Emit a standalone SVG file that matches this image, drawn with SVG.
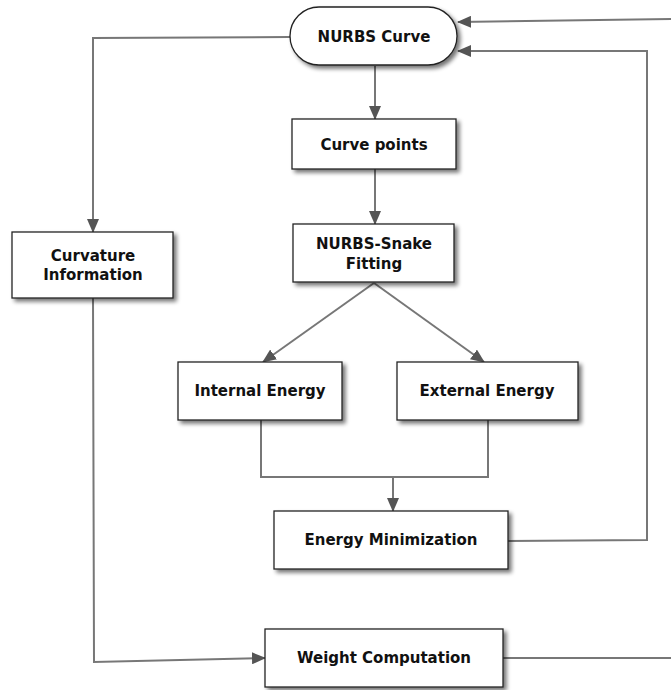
<svg xmlns="http://www.w3.org/2000/svg" width="671" height="690" viewBox="0 0 671 690">
<defs>
<filter id="sh" x="-10%" y="-10%" width="130%" height="140%">
<feGaussianBlur in="SourceAlpha" stdDeviation="2"/>
<feOffset dx="3" dy="3" result="b"/>
<feComponentTransfer><feFuncA type="linear" slope="0.55"/></feComponentTransfer>
<feMerge><feMergeNode/><feMergeNode in="SourceGraphic"/></feMerge>
</filter>
<marker id="ah" viewBox="0 0 14 12" refX="13" refY="6" markerWidth="14" markerHeight="12" markerUnits="userSpaceOnUse" orient="auto">
<path d="M0,0 L14,6 L0,12 Z" fill="#555"/>
</marker>
</defs>
<style>
.box{fill:#fff;stroke:#222;stroke-width:1.3;filter:url(#sh)}
.t{font-family:"DejaVu Sans",Verdana,sans-serif;font-weight:bold;font-size:15px;fill:#111;text-anchor:middle;dominant-baseline:central}
.c{fill:none;stroke:#777;stroke-width:2}
.a{marker-end:url(#ah)}
</style>
<rect width="671" height="690" fill="#fff"/>
<g id="connectors">
<polyline class="c a" points="290,37 93,38 93,232"/>
<line class="c a" x1="375" y1="66" x2="375" y2="119"/>
<line class="c a" x1="375" y1="169" x2="375" y2="224"/>
<line class="c a" x1="374" y1="283" x2="263" y2="362"/>
<line class="c a" x1="374" y1="283" x2="484" y2="362"/>
<polyline class="c" points="261,420 261,477 488,477 488,420"/>
<line class="c a" x1="393" y1="477" x2="393" y2="511"/>
<polyline class="c a" points="508,541 647,540 647,51 458,51"/>
<line class="c a" x1="671" y1="19" x2="458" y2="22"/>
<polyline class="c a" points="93,298 94,662 265,658"/>
<line class="c" x1="503" y1="658" x2="671" y2="658"/>
</g>
<g id="nurbs-curve">
<rect class="box" x="290" y="7" width="167" height="58" rx="29"/>
<text class="t" x="374" y="37">NURBS Curve</text>
</g>
<g id="curve-points">
<rect class="box" x="292" y="119" width="164" height="50"/>
<text class="t" x="374" y="145">Curve points</text>
</g>
<g id="nurbs-snake">
<rect class="box" x="293" y="224" width="161" height="58"/>
<text class="t" x="374" y="244">NURBS-Snake</text>
<text class="t" x="374" y="264">Fitting</text>
</g>
<g id="curvature-information">
<rect class="box" x="12" y="232" width="161" height="66"/>
<text class="t" x="93" y="256">Curvature</text>
<text class="t" x="93" y="275">Information</text>
</g>
<g id="internal-energy">
<rect class="box" x="178" y="362" width="164" height="58"/>
<text class="t" x="260" y="391">Internal Energy</text>
</g>
<g id="external-energy">
<rect class="box" x="397" y="362" width="181" height="58"/>
<text class="t" x="487" y="391">External Energy</text>
</g>
<g id="energy-minimization">
<rect class="box" x="274" y="511" width="234" height="58"/>
<text class="t" x="391" y="540">Energy Minimization</text>
</g>
<g id="weight-computation">
<rect class="box" x="265" y="629" width="238" height="58"/>
<text class="t" x="384" y="658">Weight Computation</text>
</g>
</svg>
